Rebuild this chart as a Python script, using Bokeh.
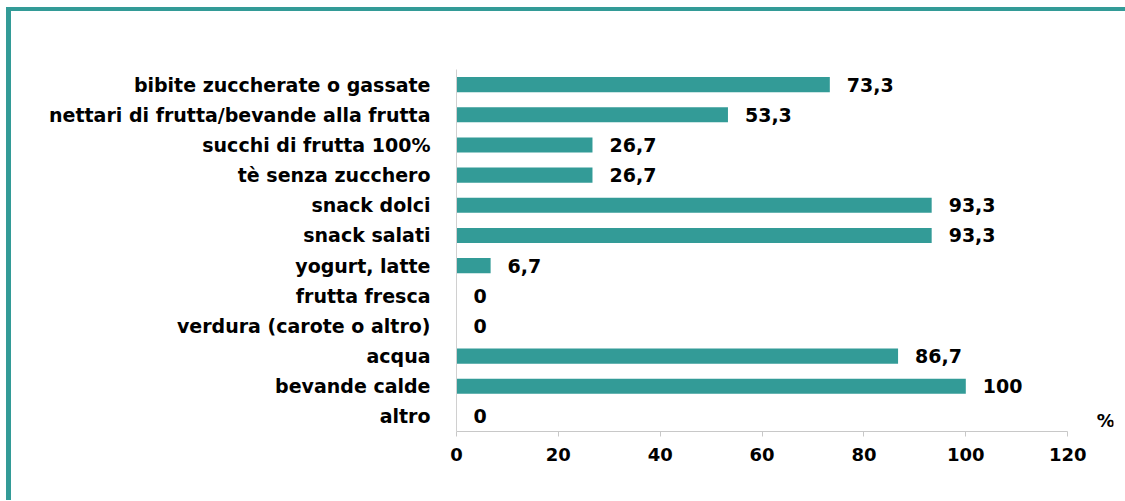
from bokeh.plotting import figure
from bokeh.models import ColumnDataSource, FactorRange, FixedTicker
from bokeh.core.properties import value
from bokeh.embed import file_html
from bokeh.resources import INLINE

categories = ["bibite zuccherate o gassate", "nettari di frutta/bevande alla frutta",
              "succhi di frutta 100%", "tè senza zucchero", "snack dolci", "snack salati",
              "yogurt, latte", "frutta fresca", "verdura (carote o altro)", "acqua",
              "bevande calde", "altro"]
values = [73.3, 53.3, 26.7, 26.7, 93.3, 93.3, 6.7, 0, 0, 86.7, 100, 0]
value_labels = ["73,3", "53,3", "26,7", "26,7", "93,3", "93,3", "6,7", "0", "0", "86,7", "100", "0"]
x_ticks = [0, 20, 40, 60, 80, 100, 120]
unit_label = "%"

TEAL = "#339b97"
FONT = "DejaVu Sans"

src = ColumnDataSource(dict(cat=categories, val=values, lab=value_labels))

p = figure(y_range=FactorRange(factors=list(reversed(categories))),
           x_range=(0, 129),
           frame_width=657, frame_height=362,
           min_border_left=445, min_border_right=12, min_border_top=58, min_border_bottom=69,
           output_backend="svg", toolbar_location=None)
p.styles = {"border-left": "5px solid " + TEAL, "border-top": "4px solid " + TEAL,
            "margin-left": "6px", "margin-top": "7px"}

p.hbar(y="cat", right="val", left=0, height=0.5, source=src,
       fill_color=TEAL, line_color=None)

p.text(x="val", y="cat", text="lab", source=src, x_offset=17,
       text_font=value(FONT), text_font_style="bold", text_font_size="19px",
       text_baseline="middle", text_align="left", text_color="black")

p.text(x=[127.5], y=["altro"], text=[unit_label], y_offset=4,
       text_font=value(FONT), text_font_style="bold", text_font_size="18px",
       text_baseline="middle", text_align="center", text_color="black")

p.xgrid.grid_line_color = None
p.ygrid.grid_line_color = None
p.outline_line_color = None

xa = p.xaxis[0]
xa.ticker = FixedTicker(ticks=x_ticks)
xa.bounds = (0, 120)
xa.axis_line_color = "#c8c8c8"
xa.major_tick_line_color = "#c8c8c8"
xa.major_tick_out = 5
xa.major_tick_in = 0
xa.minor_tick_line_color = None
xa.major_label_text_font = FONT
xa.major_label_text_font_style = "bold"
xa.major_label_text_font_size = "18px"
xa.major_label_text_color = "black"
xa.major_label_standoff = 11

ya = p.yaxis[0]
ya.axis_line_color = "#d0d0d0"
ya.major_tick_line_color = None
ya.minor_tick_line_color = None
ya.major_tick_out = 0
ya.major_tick_in = 0
ya.major_label_standoff = 26
ya.major_label_text_font = FONT
ya.major_label_text_font_style = "bold"
ya.major_label_text_font_size = "19px"
ya.major_label_text_color = "black"

open("out.html", "w").write(file_html(p, INLINE))
